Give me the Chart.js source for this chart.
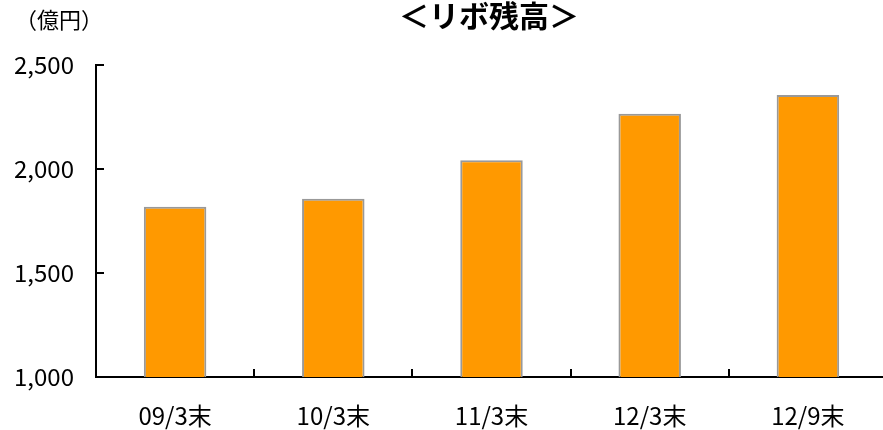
<!DOCTYPE html>
<html>
<head>
<meta charset="utf-8">
<script src="https://cdn.jsdelivr.net/npm/chart.js@4.4.1/dist/chart.umd.min.js"></script>
<style>
html,body{margin:0;padding:0;background:#fff;overflow:hidden;width:883px;height:430px;}
#c{display:block;}
</style>
</head>
<body>
<canvas id="c" width="887" height="430"></canvas>
<script>
const categories = ['09/3末', '10/3末', '11/3末', '12/3末', '12/9末'];
const values = [1818, 1857, 2042, 2266, 2356];
const yTicks = [1000, 1500, 2000, 2500];
const titleText = '＜リボ残高＞';
const unitText = '（億円）';

const FONT = '"Noto Sans CJK JP", "Noto Sans", sans-serif';

const textPlugin = {
  id: 'texts',
  afterDraw(chart) {
    const ctx = chart.ctx;
    const area = chart.chartArea;
    ctx.save();
    ctx.fillStyle = '#000';
    ctx.textBaseline = 'middle';
    ctx.textAlign = 'center';
    ctx.font = 'bold 30px ' + FONT;
    ctx.fillText(titleText, 489, 16);
    ctx.font = '22px ' + FONT;
    ctx.fillText(unitText, 59, 20);
    ctx.restore();
  }
};

new Chart(document.getElementById('c'), {
  type: 'bar',
  data: {
    labels: categories,
    datasets: [{
      data: values,
      backgroundColor: '#ff9900',
      borderColor: '#999999',
      borderWidth: 2,
      categoryPercentage: 1,
      barPercentage: 0.395
    }]
  },
  options: {
    responsive: false,
    animation: false,
    devicePixelRatio: 1,
    layout: { padding: { top: 65, right: 0, bottom: 0, left: 0 } },
    plugins: { legend: { display: false }, title: { display: false }, tooltip: { enabled: false } },
    scales: {
      x: {
        grid: { display: true, drawOnChartArea: false, drawTicks: true, tickLength: -8, color: '#000', lineWidth: 2, offset: true },
        border: { display: true, color: '#000', width: 2 },
        ticks: { color: '#000', font: { family: FONT, size: 24 }, padding: 32, maxRotation: 0 },
        afterFit(s) { s.height = 53; }
      },
      y: {
        min: 1000, max: 2500,
        afterBuildTicks(s) { s.ticks = yTicks.map(v => ({ value: v })); },
        grid: { display: true, drawOnChartArea: false, drawTicks: true, tickLength: -8, color: '#000', lineWidth: 2 },
        border: { display: true, color: '#000', width: 2 },
        ticks: { color: '#000', font: { family: FONT, size: 24 }, padding: 30,
          callback: v => v.toLocaleString('en-US') },
        afterFit(s) { s.width = 96; }
      }
    }
  },
  plugins: [textPlugin]
});
</script>
</body>
</html>
